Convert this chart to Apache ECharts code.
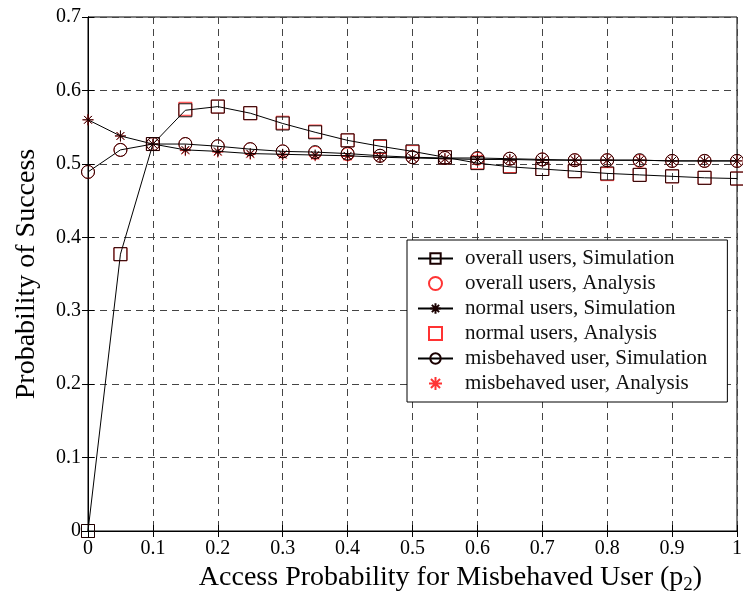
<!DOCTYPE html>
<html>
<head>
<meta charset="utf-8">
<script src="https://cdn.jsdelivr.net/npm/echarts@6/dist/echarts.min.js"></script>
<style>
  html, body { margin: 0; padding: 0; background: #fff; }
  #chart { width: 743px; height: 597px; }
</style>
</head>
<body>
<div id="chart"></div>
<script>
// Access probability of the misbehaved user
const p2 = [0, 0.05, 0.1, 0.15, 0.2, 0.25, 0.3, 0.35, 0.4, 0.45, 0.5,
            0.55, 0.6, 0.65, 0.7, 0.75, 0.8, 0.85, 0.9, 0.95, 1];

// Simulation results
const overallSim = [0.000, 0.377, 0.527, 0.573, 0.578, 0.569, 0.555, 0.543, 0.532, 0.524, 0.517,
                    0.509, 0.501, 0.496, 0.493, 0.490, 0.487, 0.485, 0.483, 0.481, 0.480];
const normalSim = [0.560, 0.538, 0.527, 0.519, 0.517, 0.514, 0.513, 0.512, 0.511, 0.509, 0.508,
                   0.507, 0.506, 0.506, 0.505, 0.505, 0.505, 0.505, 0.504, 0.504, 0.504];
const misbehavedSim = [0.489, 0.519, 0.527, 0.527, 0.524, 0.520, 0.517, 0.516, 0.514, 0.511, 0.509,
                       0.508, 0.508, 0.507, 0.506, 0.505, 0.505, 0.505, 0.504, 0.504, 0.504];

// Analytical results
const overallAna = [0.489, 0.519, 0.527, 0.527, 0.524, 0.520, 0.517, 0.515, 0.513, 0.511, 0.509,
                    0.508, 0.507, 0.507, 0.506, 0.505, 0.505, 0.504, 0.504, 0.504, 0.504];
const normalAna = [0.000, 0.377, 0.527, 0.575, 0.578, 0.569, 0.556, 0.544, 0.532, 0.523, 0.516,
                   0.509, 0.502, 0.497, 0.493, 0.490, 0.486, 0.485, 0.483, 0.481, 0.480];
const misbehavedAna = [0.560, 0.538, 0.527, 0.518, 0.516, 0.513, 0.512, 0.511, 0.510, 0.509, 0.508,
                       0.507, 0.506, 0.506, 0.505, 0.505, 0.505, 0.505, 0.504, 0.504, 0.504];

const xTicks = { min: 0, max: 1, interval: 0.1 };
const yTicks = { min: 0, max: 0.7, interval: 0.1 };

const FONT = '"Liberation Serif", "Times New Roman", serif';
// hollow marker outlines (MATLAB style)
const ASTERISK = 'path://M10,0L10,20M0,10L20,10M3,3L17,17M3,17L17,3';
const SQUARE = 'path://M0,0L20,0L20,20L0,20Z';

const pairs = arr => p2.map((x, i) => [x, arr[i]]);

function simSeries(name, arr, symbol, size) {
  return {
    name, type: 'line', data: pairs(arr), z: 3,
    symbol, symbolSize: size, symbolKeepAspect: true, showAllSymbol: true,
    lineStyle: { color: '#000', width: 1 },
    itemStyle: { color: 'rgba(0,0,0,0)', borderColor: '#1a0000', borderWidth: 1 },
    emphasis: { disabled: true },
    animation: false
  };
}
function anaSeries(name, arr, symbol, size) {
  return {
    name, type: 'scatter', data: pairs(arr), z: 2,
    symbol, symbolSize: size, symbolKeepAspect: true,
    itemStyle: { color: 'rgba(0,0,0,0)', borderColor: '#ff0000', borderWidth: 1 },
    emphasis: { disabled: true },
    animation: false
  };
}

const chart = echarts.init(document.getElementById('chart'), null, { renderer: 'canvas' });

const gridLine = { show: true, lineStyle: { color: '#444', width: 1, type: [7, 5] } };
const boxAxisLine = { show: true, lineStyle: { color: '#000', width: 1 } };
const innerTick = { show: true, inside: true, length: 6, lineStyle: { color: '#000' } };

chart.setOption({
  backgroundColor: '#fff',
  animation: false,
  grid: {
    left: 88, right: 6, top: 17, bottom: 66,
    containLabel: false, outerBoundsMode: 'none',
    show: true, borderColor: '#000', borderWidth: 1
  },
  xAxis: [{
    type: 'value', ...xTicks, position: 'bottom',
    axisLine: boxAxisLine, axisTick: innerTick,
    axisLabel: { color: '#000', fontFamily: FONT, fontSize: 20, margin: 8 },
    splitLine: gridLine,
    name: 'Access Probability for Misbehaved User (p{s|2})',
    nameLocation: 'middle', nameGap: 30,
    nameTextStyle: {
      color: '#000', fontFamily: FONT, fontSize: 28, padding: [0, 0, 0, 76],
      rich: { s: { fontFamily: FONT, fontSize: 19, color: '#000', padding: [14, 0, 0, 0] } }
    }
  }, {
    type: 'value', ...xTicks, position: 'top',
    axisLine: boxAxisLine, axisTick: innerTick,
    axisLabel: { show: false }, splitLine: { show: false }
  }],
  yAxis: [{
    type: 'value', ...yTicks, position: 'left',
    axisLine: boxAxisLine, axisTick: innerTick,
    axisLabel: { color: '#000', fontFamily: FONT, fontSize: 20, margin: 7 },
    splitLine: gridLine,
    name: 'Probability of Success',
    nameLocation: 'middle', nameGap: 47,
    nameTextStyle: { color: '#000', fontFamily: FONT, fontSize: 28 }
  }, {
    type: 'value', ...yTicks, position: 'right',
    axisLine: boxAxisLine, axisTick: innerTick,
    axisLabel: { show: false }, splitLine: { show: false }
  }],
  legend: {
    orient: 'vertical', left: 407, top: 240,
    backgroundColor: '#fff', borderColor: '#000', borderWidth: 1,
    padding: [8, 20, 8, 10], itemGap: 4,
    itemWidth: 35, itemHeight: 13,
    selectedMode: false,
    textStyle: { color: '#111', fontFamily: FONT, fontSize: 21, padding: [0, 0, 0, 7] },
    data: [
      'overall users, Simulation', 'overall users, Analysis',
      'normal users, Simulation', 'normal users, Analysis',
      'misbehaved user, Simulation', 'misbehaved user, Analysis'
    ]
  },
  series: [
    simSeries('overall users, Simulation', overallSim, SQUARE, 13),
    anaSeries('overall users, Analysis', overallAna, 'circle', 13),
    simSeries('normal users, Simulation', normalSim, ASTERISK, 11),
    anaSeries('normal users, Analysis', normalAna, SQUARE, 13),
    simSeries('misbehaved user, Simulation', misbehavedSim, 'circle', 13),
    anaSeries('misbehaved user, Analysis', misbehavedAna, ASTERISK, 11)
  ]
});
</script>
</body>
</html>
